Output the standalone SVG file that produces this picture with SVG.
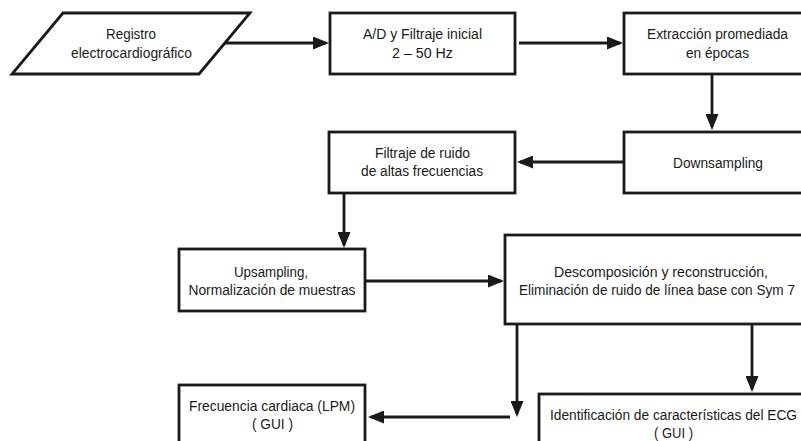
<svg xmlns="http://www.w3.org/2000/svg" width="801" height="441" viewBox="0 0 801 441">
  <style>
    .box { fill: #ffffff; stroke: #1a1a1a; stroke-width: 2.8; }
    .lbl { font-family: "Liberation Sans", Arial, sans-serif; font-size: 15.5px; fill: #1a1a1a; text-anchor: middle; }
    .con { fill: none; stroke: #1a1a1a; stroke-width: 2.8; marker-end: url(#ah); }
  </style>
  <defs>
    <marker id="ah" markerWidth="16" markerHeight="13" refX="13" refY="6.5" orient="auto" markerUnits="userSpaceOnUse">
      <path d="M0,0 L16,6.5 L0,13 z" fill="#1a1a1a"/>
    </marker>
  </defs>
  <rect width="801" height="441" fill="#ffffff"/>

  <g id="connectors">
    <path class="con" d="M225,43 H326"/>
    <path class="con" d="M519,43 H620"/>
    <path class="con" d="M712,74 V127"/>
    <path class="con" d="M624,162 H520"/>
    <path class="con" d="M344,193 V245"/>
    <path class="con" d="M365,281 H501"/>
    <path class="con" d="M517,324 V414"/>
    <path class="con" d="M510,417 H371"/>
    <path class="con" d="M752,324 V389"/>
  </g>

  <g id="n1">
    <polygon class="box" points="63,13 250,13 199,74 12,74"/>
    <text class="lbl" x="131" y="39" textLength="50" lengthAdjust="spacingAndGlyphs">Registro</text>
    <text class="lbl" x="131.5" y="58" textLength="121" lengthAdjust="spacingAndGlyphs">electrocardiográfico</text>
  </g>

  <g id="n2">
    <rect class="box" x="330" y="13" width="185" height="61"/>
    <text class="lbl" x="422.5" y="39" textLength="119" lengthAdjust="spacingAndGlyphs">A/D y Filtraje inicial</text>
    <text class="lbl" x="422.5" y="58" textLength="61" lengthAdjust="spacingAndGlyphs">2 – 50 Hz</text>
  </g>

  <g id="n3">
    <rect class="box" x="624" y="13" width="190" height="61"/>
    <text class="lbl" x="717.5" y="39" textLength="141" lengthAdjust="spacingAndGlyphs">Extracción promediada</text>
    <text class="lbl" x="717.5" y="58" textLength="63" lengthAdjust="spacingAndGlyphs">en épocas</text>
  </g>

  <g id="n4">
    <rect class="box" x="624" y="132" width="190" height="61"/>
    <text class="lbl" x="718" y="168" textLength="90" lengthAdjust="spacingAndGlyphs">Downsampling</text>
  </g>

  <g id="n5">
    <rect class="box" x="329" y="132" width="186" height="61"/>
    <text class="lbl" x="422.5" y="158" textLength="95" lengthAdjust="spacingAndGlyphs">Filtraje de ruido</text>
    <text class="lbl" x="422" y="176" textLength="122" lengthAdjust="spacingAndGlyphs">de altas frecuencias</text>
  </g>

  <g id="n6">
    <rect class="box" x="179" y="249" width="186" height="62"/>
    <text class="lbl" x="271" y="277" textLength="74" lengthAdjust="spacingAndGlyphs">Upsampling,</text>
    <text class="lbl" x="272" y="295" textLength="167" lengthAdjust="spacingAndGlyphs">Normalización de muestras</text>
  </g>

  <g id="n7">
    <rect class="box" x="505" y="235" width="310" height="89"/>
    <text class="lbl" x="661" y="277" textLength="214" lengthAdjust="spacingAndGlyphs">Descomposición y reconstrucción,</text>
    <text class="lbl" x="657" y="295" textLength="276" lengthAdjust="spacingAndGlyphs">Eliminación de ruido de línea base con Sym 7</text>
  </g>

  <g id="n8">
    <rect class="box" x="179" y="385" width="186" height="70"/>
    <text class="lbl" x="272" y="411" textLength="166" lengthAdjust="spacingAndGlyphs">Frecuencia cardiaca (LPM)</text>
    <text class="lbl" x="272.5" y="429" textLength="41" lengthAdjust="spacingAndGlyphs">( GUI )</text>
  </g>

  <g id="n9">
    <rect class="box" x="539" y="394" width="275" height="60"/>
    <text class="lbl" x="673.5" y="420" textLength="247" lengthAdjust="spacingAndGlyphs">Identificación de características del ECG</text>
    <text class="lbl" x="673.5" y="438" textLength="39" lengthAdjust="spacingAndGlyphs">( GUI )</text>
  </g>
</svg>
